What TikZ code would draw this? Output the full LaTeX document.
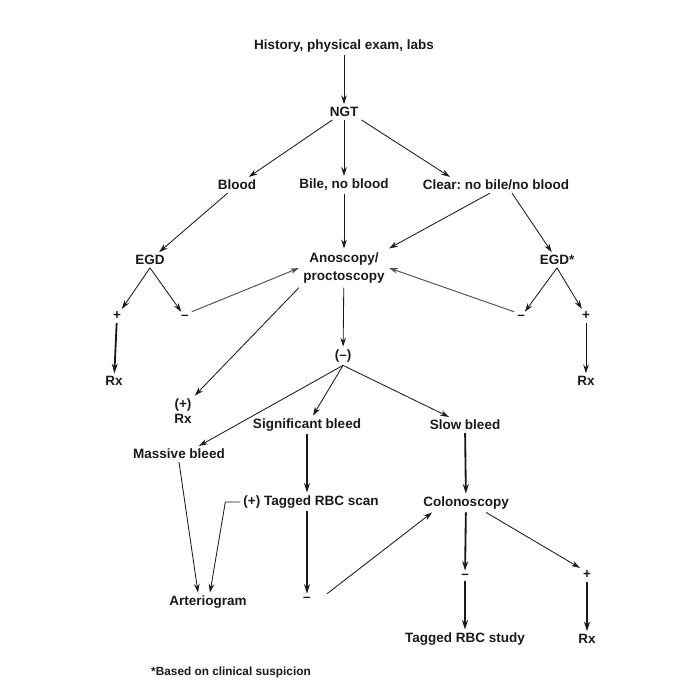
\documentclass[tikz,border=0pt]{standalone}
\usepackage{fontspec}
\setmainfont{Liberation Sans}
\usepackage{xcolor}
\usetikzlibrary{positioning,arrows.meta}
\frenchspacing
\definecolor{ink}{HTML}{1a1a1a}
\definecolor{inkgray}{HTML}{555555}
\tikzset{
  every node/.style={font=\fontsize{9.6}{11.5}\selectfont\bfseries, text=ink},
  step box/.style={inner sep=2pt, align=center},
  arrow/.style={
    -{Stealth[length=2.2mm,width=1.4mm]},
    line width=0.6pt, draw=ink
  },
  thick arrow/.style={
    -{Stealth[length=2.4mm,width=1.5mm]},
    line width=1.3pt, draw=ink
  },
  back arrow/.style={
    -{Stealth[length=2.2mm,width=1.4mm]},
    line width=0.7pt, draw=inkgray
  },
}
\begin{document}
\begin{tikzpicture}[x=0.025cm, y=-0.025cm]
  \useasboundingbox[fill=white] (0,0) rectangle (697,697);
  % top of the tree
  \node[step box] (hist) at (344,46) {History, physical exam, labs};
  \node[step box] (ngt) at (344,112) {NGT};
  \node[step box] (blood) at (237,185) {Blood};
  \node[step box] (bile) at (344,185) {Bile, no blood};
  \node[step box] (clear) at (496,185) {Clear: no bile/no blood};
  % second level
  \node[step box] (egdl) at (150,260) {EGD};
  \node[step box, inner sep=3pt] (anos) at (344,268) {Anoscopy/\\[1pt]proctoscopy};
  \node[step box] (egdr) at (557,260) {EGD*};
  \node[step box] (plusl) at (117,316) {+};
  \node[step box] (minusl) at (185,317) {--};
  \node[step box] (minusr) at (521,317) {--};
  \node[step box] (plusr) at (586,316) {+};
  \node[step box] (rxl) at (114,381) {Rx};
  \node[step box] (rxr) at (586,381) {Rx};
  \node[step box] (neg) at (343,356) {(--)};
  \node[step box] (plusrx) at (183,411) {(+)\\[-1pt]Rx};
  % bleed branches
  \node[step box] (sig) at (307,425) {Significant bleed};
  \node[step box] (slow) at (465,425) {Slow bleed};
  \node[step box] (massive) at (179,454) {Massive bleed};
  \node[step box] (tagscan) at (311,502) {(+) Tagged RBC scan};
  \node[step box] (colon) at (466,503) {Colonoscopy};
  \node[step box] (arterio) at (208,602) {Arteriogram};
  \node[step box] (negm) at (307,599) {--};
  \node[step box] (negc) at (465,576) {--};
  \node[step box] (plusc) at (587,575) {+};
  \node[step box] (study) at (465,639) {Tagged RBC study};
  \node[step box] (rxb) at (587,639) {Rx};
  \node[step box, font=\fontsize{8.4}{10}\selectfont\bfseries] (note) at (231,672) {*Based on clinical suspicion};

  \draw[arrow] (hist) -- (ngt);
  \draw[arrow] (ngt) -- (blood);
  \draw[arrow] (ngt) -- (bile);
  \draw[arrow] (ngt.south east) -- (clear.170);
  \draw[arrow] (blood) -- (egdl);
  \draw[arrow] (bile) -- (anos);
  \draw[arrow] ([xshift=-1.5mm]clear.south) -- (anos.north east);
  \draw[arrow] ([xshift=4mm]clear.south) -- (egdr);
  \draw[arrow] (egdl.south) -- (plusl);
  \draw[arrow] (egdl.south) -- (minusl);
  \draw[arrow] (egdr.south) -- (minusr);
  \draw[arrow] (egdr.south) -- (plusr);
  \draw[back arrow] (minusl.north east) -- (anos.west);
  \draw[back arrow] (minusr.north west) -- (anos.east);
  \draw[thick arrow] (plusl) -- (rxl);
  \draw[arrow] (plusr) -- (rxr);
  \draw[arrow] (anos.south west) -- (plusrx.north east);
  \draw[arrow] (anos) -- (neg);
  \draw[arrow] (neg.south) -- ([xshift=5mm]massive.north);
  \draw[arrow] (neg.south) -- ([xshift=1.5mm]sig.north);
  \draw[arrow] (neg.south) -- ([xshift=-4mm]slow.north);
  \draw[thick arrow] (sig) -- (sig |- tagscan.north);
  \draw[thick arrow] (slow) -- (colon);
  \draw[arrow] (massive.south) -- ([xshift=-2.5mm]arterio.north);
  \draw[arrow] (tagscan.west) -- ++(-15,0) -- ([xshift=0.5mm]arterio.north);
  \draw[thick arrow] (negm |- tagscan.south) -- (negm);
  \draw[arrow] ([xshift=5mm]negm.north) -- ([xshift=3mm]colon.south west);
  \draw[thick arrow] (colon) -- (negc);
  \draw[arrow] ([xshift=5mm]colon.south) -- (plusc.north west);
  \draw[thick arrow] (negc) -- (study);
  \draw[thick arrow] (plusc) -- (rxb);
\end{tikzpicture}
\end{document}
